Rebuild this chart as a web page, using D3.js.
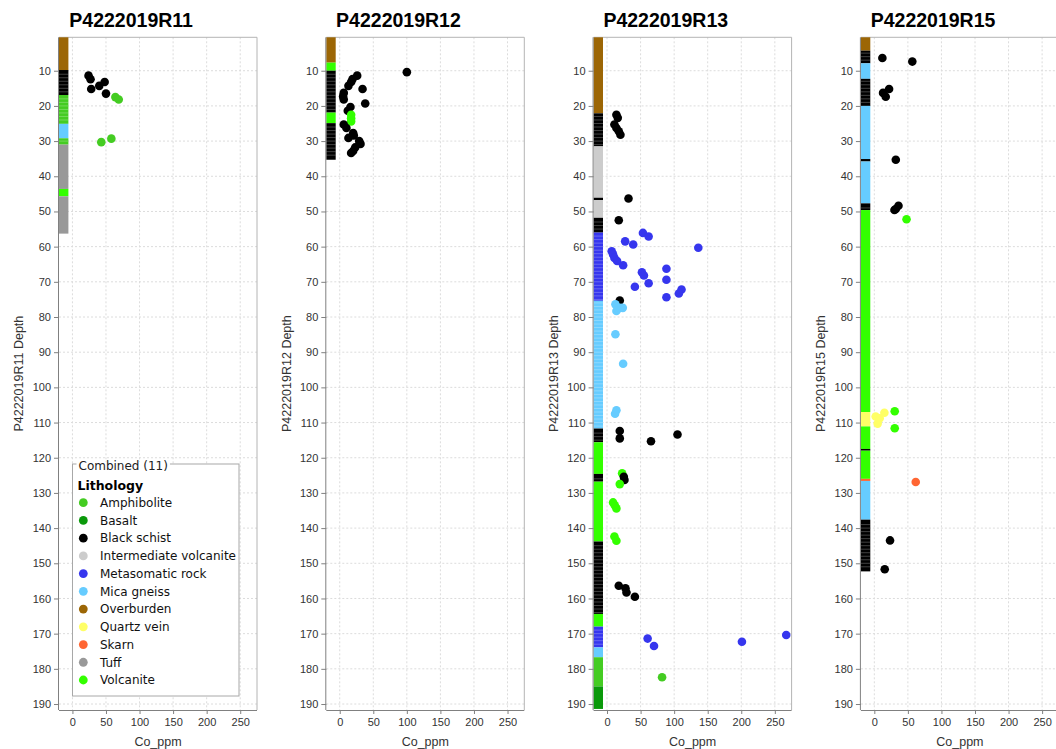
<!DOCTYPE html>
<html>
<head>
<meta charset="utf-8">
<script src="https://cdn.jsdelivr.net/npm/d3@7"></script>
<style>
  body { margin: 0; background: #fff; }
  svg { display: block; }
</style>
</head>
<body>
<script>
// Drill holes shown side by side
const holes = ["P4222019R11", "P4222019R12", "P4222019R13", "P4222019R15"];

// Lithology legend (order and colour)
const lithNames = ["Amphibolite", "Basalt", "Black schist", "Intermediate volcanite",
  "Metasomatic rock", "Mica gneiss", "Overburden", "Quartz vein", "Skarn", "Tuff", "Volcanite"];
const lithColors = ["#44cc22", "#0a990a", "#000000", "#cccccc",
  "#3636ee", "#66ccff", "#9c6605", "#ffff66", "#ff6633", "#999999", "#33ff00"];

// Axis ticks
const depthTicks = [10, 20, 30, 40, 50, 60, 70, 80, 90, 100, 110, 120, 130, 140, 150, 160, 170, 180, 190];
const coTicks = [0, 50, 100, 150, 200, 250];
const depthDomain = [0.5, 191.7];
const coDomain = [-20, 275];
const stripRange = [-20, -6];   // Co_ppm span used by the lithology log column

// Logged lithology intervals: [from, to, lithology, sampled (1 m sample splits)]
const logR11 = [
  [0.5, 9.8, "Overburden", 0], [9.8, 16.9, "Black schist", 1], [16.9, 25.1, "Amphibolite", 1],
  [25.1, 29.2, "Mica gneiss", 0], [29.2, 31.0, "Amphibolite", 1], [31.0, 43.6, "Tuff", 0],
  [43.6, 45.7, "Volcanite", 0], [45.7, 56.3, "Tuff", 0]
];
const logR12 = [
  [0.5, 7.7, "Overburden", 0], [7.7, 10.0, "Volcanite", 0], [10.0, 21.9, "Black schist", 1],
  [21.9, 24.9, "Volcanite", 0], [24.9, 35.3, "Black schist", 1]
];
const logR13 = [
  [0.5, 22.1, "Overburden", 0], [22.1, 31.5, "Black schist", 1], [31.5, 46.1, "Intermediate volcanite", 0],
  [46.1, 46.8, "Black schist", 0], [46.8, 51.8, "Intermediate volcanite", 0], [51.8, 56.0, "Black schist", 1],
  [56.0, 75.4, "Metasomatic rock", 1], [75.4, 111.7, "Mica gneiss", 1], [111.7, 115.6, "Black schist", 1],
  [115.6, 124.6, "Volcanite", 0], [124.6, 126.8, "Black schist", 1], [126.8, 143.8, "Volcanite", 0],
  [143.8, 164.4, "Black schist", 1], [164.4, 168.0, "Volcanite", 0], [168.0, 173.9, "Metasomatic rock", 1],
  [173.9, 176.7, "Mica gneiss", 0], [176.7, 185.0, "Amphibolite", 0], [185.0, 191.4, "Basalt", 0]
];
const logR15 = [
  [0.5, 4.3, "Overburden", 0], [4.3, 7.9, "Black schist", 1], [7.9, 12.3, "Mica gneiss", 0],
  [12.3, 20.0, "Black schist", 1], [20.0, 35.1, "Mica gneiss", 0], [35.1, 35.8, "Black schist", 0],
  [35.8, 47.7, "Mica gneiss", 0], [47.7, 49.6, "Black schist", 1], [49.6, 107.0, "Volcanite", 0],
  [107.0, 111.1, "Quartz vein", 0], [111.1, 117.5, "Volcanite", 0], [117.5, 118.0, "Black schist", 0],
  [118.0, 126.0, "Volcanite", 0], [126.0, 126.6, "Skarn", 0], [126.6, 137.6, "Mica gneiss", 0],
  [137.6, 152.3, "Black schist", 1]
];

// Assays: [Co_ppm, depth, lithology]
const coR11 = [
  [24, 11.4, "Black schist"], [27, 12.4, "Black schist"], [28, 15.2, "Black schist"],
  [40, 14.3, "Black schist"], [48, 13.2, "Black schist"], [50, 16.5, "Black schist"],
  [64, 17.5, "Amphibolite"], [69, 18.2, "Amphibolite"], [43, 30.3, "Amphibolite"], [58, 29.3, "Amphibolite"]
];
const coR12 = [
  [100, 10.4, "Black schist"], [26, 11.4, "Black schist"], [19, 12.4, "Black schist"],
  [17, 13.2, "Black schist"], [13, 14.3, "Black schist"], [34, 15.2, "Black schist"],
  [6, 16.3, "Black schist"], [5, 17.3, "Black schist"], [6, 18.2, "Black schist"],
  [38, 19.3, "Black schist"], [16, 20.3, "Black schist"], [12, 21.4, "Black schist"],
  [17, 22.5, "Volcanite"], [17, 23.5, "Volcanite"], [17, 24.4, "Volcanite"],
  [6, 25.3, "Black schist"], [10, 26.3, "Black schist"], [20, 27.7, "Black schist"],
  [21, 28.4, "Black schist"], [13, 29.1, "Black schist"], [29, 30.0, "Black schist"],
  [31, 30.8, "Black schist"], [23, 31.8, "Black schist"], [20, 32.8, "Black schist"],
  [17, 33.4, "Black schist"]
];
const coR13 = [
  [14, 22.5, "Black schist"], [16, 23.4, "Black schist"], [11, 25.3, "Black schist"],
  [14, 26.3, "Black schist"], [17.5, 27.2, "Black schist"], [20, 28.2, "Black schist"],
  [32, 46.3, "Black schist"], [17.5, 52.5, "Black schist"],
  [53.5, 56.1, "Metasomatic rock"], [62, 57.1, "Metasomatic rock"], [27, 58.5, "Metasomatic rock"],
  [39, 59.4, "Metasomatic rock"], [136, 60.3, "Metasomatic rock"], [7, 61.3, "Metasomatic rock"],
  [9, 62.2, "Metasomatic rock"], [11, 63.2, "Metasomatic rock"], [15, 64.1, "Metasomatic rock"],
  [24, 65.3, "Metasomatic rock"], [88.5, 66.3, "Metasomatic rock"], [52, 67.3, "Metasomatic rock"],
  [55, 68.2, "Metasomatic rock"], [88.5, 69.4, "Metasomatic rock"], [62, 70.4, "Metasomatic rock"],
  [41.5, 71.4, "Metasomatic rock"], [111, 72.2, "Metasomatic rock"], [107, 73.3, "Metasomatic rock"],
  [88.5, 74.4, "Metasomatic rock"], [19, 75.3, "Black schist"],
  [12.5, 76.4, "Mica gneiss"], [19, 77.4, "Mica gneiss"], [23.5, 77.4, "Mica gneiss"],
  [14, 78.3, "Mica gneiss"], [12.5, 84.9, "Mica gneiss"], [24, 93.3, "Mica gneiss"],
  [14, 106.5, "Mica gneiss"], [12, 107.5, "Mica gneiss"],
  [19, 112.4, "Black schist"], [19, 114.5, "Black schist"], [65.5, 115.3, "Black schist"],
  [105, 113.4, "Black schist"],
  [22.5, 124.4, "Volcanite"], [25, 125.4, "Black schist"], [26, 126.3, "Black schist"],
  [19, 127.5, "Volcanite"], [9, 132.7, "Volcanite"], [11.5, 133.5, "Volcanite"],
  [14, 134.4, "Volcanite"], [11, 142.4, "Volcanite"], [14, 143.6, "Volcanite"],
  [17.5, 156.4, "Black schist"], [27.5, 157.1, "Black schist"], [29, 158.3, "Black schist"],
  [41.5, 159.5, "Black schist"],
  [60.5, 171.4, "Metasomatic rock"], [70, 173.5, "Metasomatic rock"], [201, 172.3, "Metasomatic rock"],
  [267, 170.4, "Metasomatic rock"], [82, 182.4, "Amphibolite"]
];
const coR15 = [
  [12, 6.4, "Black schist"], [56.6, 7.4, "Black schist"], [22, 15.2, "Black schist"],
  [13, 16.3, "Black schist"], [17, 17.4, "Black schist"], [32, 35.3, "Black schist"],
  [36, 48.4, "Black schist"], [32, 49.3, "Black schist"], [30, 49.6, "Black schist"],
  [48, 52.2, "Volcanite"],
  [2, 108.3, "Quartz vein"], [5, 110.3, "Quartz vein"], [8, 108.8, "Quartz vein"], [15, 107.2, "Quartz vein"],
  [30.4, 106.8, "Volcanite"], [30.4, 111.6, "Volcanite"],
  [61.7, 126.9, "Skarn"], [23.4, 143.5, "Black schist"], [15.5, 151.7, "Black schist"]
];

const logs = [logR11, logR12, logR13, logR15];
const assays = [coR11, coR12, coR13, coR15];

const color = d3.scaleOrdinal().domain(lithNames).range(lithColors);

const W = 1056, H = 749;
const panelStep = 267.3, frameLeft0 = 59, frameW = 198;
const plotTop = 37.3, plotBottom = 710;
const axisFont = "'Liberation Sans', Arial, sans-serif";

const svg = d3.select("body").append("svg")
  .attr("width", W).attr("height", H)
  .attr("viewBox", `0 0 ${W} ${H}`);

const y = d3.scaleLinear().domain(depthDomain).range([plotTop, plotBottom]);

holes.forEach((hole, i) => {
  const left = frameLeft0 + i * panelStep;
  const x = d3.scaleLinear().domain(coDomain).range([left, left + frameW]);
  const g = svg.append("g");

  // Dashed grid
  g.append("g").selectAll("line.h").data(depthTicks).join("line")
    .attr("x1", left).attr("x2", left + frameW)
    .attr("y1", d => y(d)).attr("y2", d => y(d))
    .attr("stroke", "#dcdcdc").attr("stroke-width", 1).attr("stroke-dasharray", "2,2");
  g.append("g").selectAll("line.v").data(coTicks).join("line")
    .attr("x1", d => x(d)).attr("x2", d => x(d))
    .attr("y1", plotTop).attr("y2", plotBottom)
    .attr("stroke", "#dcdcdc").attr("stroke-width", 1).attr("stroke-dasharray", "2,2");

  // Plot frame (top and right)
  g.append("path")
    .attr("d", `M${left},${plotTop}H${left + frameW}V${plotBottom}`)
    .attr("fill", "none").attr("stroke", "#b4b4b4").attr("stroke-width", 1);

  // Lithology log column
  const xs0 = x(stripRange[0]), xs1 = x(stripRange[1]);
  const strip = g.append("g");
  strip.selectAll("rect").data(logs[i]).join("rect")
    .attr("x", xs0).attr("width", xs1 - xs0)
    .attr("y", d => y(d[0])).attr("height", d => y(d[1]) - y(d[0]))
    .attr("fill", d => color(d[2]));
  // Sample splits within sampled intervals
  const splits = [];
  logs[i].forEach(d => {
    if (!d[3]) return;
    for (let z = Math.ceil(d[0] + 0.5); z < d[1] - 0.3; z += 1) splits.push(z);
  });
  strip.selectAll("line").data(splits).join("line")
    .attr("x1", xs0).attr("x2", xs1)
    .attr("y1", d => y(d)).attr("y2", d => y(d))
    .attr("stroke", "#ffffff").attr("stroke-opacity", 0.32).attr("stroke-width", 0.8);

  // Assay points
  g.append("g").selectAll("circle").data(assays[i]).join("circle")
    .attr("cx", d => x(d[0])).attr("cy", d => y(d[1])).attr("r", 4.3)
    .attr("fill", d => color(d[2]));

  // Axes
  const yAxis = d3.axisLeft(y).tickValues(depthTicks).tickSize(5).tickPadding(3);
  const ya = g.append("g").attr("transform", `translate(${left},0)`).call(yAxis);
  const xAxis = d3.axisBottom(x).tickValues(coTicks).tickSize(4).tickPadding(4);
  const xa = g.append("g").attr("transform", `translate(0,${plotBottom})`).call(xAxis);
  [ya, xa].forEach(a => {
    a.select(".domain").attr("stroke", "#808080");
    a.selectAll(".tick line").attr("stroke", "#808080");
    a.selectAll(".tick text").attr("fill", "#333").style("font-family", axisFont).style("font-size", "11px");
  });
  ya.select(".domain").attr("d", `M-0.5,${plotTop}V${plotBottom}`);
  xa.select(".domain").attr("d", `M${left},0.5H${left + frameW}`);

  // Axis titles
  g.append("text")
    .attr("transform", `translate(${left - 40},${(plotTop + plotBottom) / 2}) rotate(-90)`)
    .attr("text-anchor", "middle").attr("dy", "0.35em")
    .style("font-family", axisFont).style("font-size", "12.5px").attr("fill", "#333")
    .text(hole + " Depth");
  g.append("text")
    .attr("x", left + frameW / 2).attr("y", 746)
    .attr("text-anchor", "middle")
    .style("font-family", axisFont).style("font-size", "12.5px").attr("fill", "#333")
    .text("Co_ppm");

  // Hole title
  g.append("text")
    .attr("x", i * panelStep + panelStep / 2 - 2.5).attr("y", 26.8)
    .attr("text-anchor", "middle")
    .style("font-family", axisFont).style("font-weight", "bold").style("font-size", "19.5px")
    .attr("fill", "#000")
    .text(hole);
});

// Legend
const lg = svg.append("g").attr("transform", "translate(72.5,464)");
const legFont = "'DejaVu Sans', Verdana, sans-serif";
lg.append("rect").attr("x", 0).attr("y", 0).attr("width", 166.5).attr("height", 232)
  .attr("fill", "#fff").attr("stroke", "#a8a8a8").attr("stroke-width", 1);
const cap = lg.append("text").attr("x", 6).attr("y", 5.5)
  .style("font-family", legFont).style("font-size", "12px").attr("fill", "#222")
  .text("Combined (11)");
const bb = cap.node().getBBox();
lg.insert("rect", "text").attr("x", bb.x - 2).attr("y", -2).attr("width", bb.width + 4).attr("height", 4).attr("fill", "#fff");
lg.append("text").attr("x", 5).attr("y", 26)
  .style("font-family", legFont).style("font-size", "12.5px").style("font-weight", "bold").attr("fill", "#000")
  .text("Lithology");
const items = lg.selectAll("g.item").data(lithNames).join("g")
  .attr("transform", (d, k) => `translate(0,${38.7 + k * 17.73})`);
items.append("circle").attr("cx", 10.8).attr("cy", 0).attr("r", 4.4).attr("fill", d => color(d));
items.append("text").attr("x", 27.5).attr("y", 0).attr("dy", "0.36em")
  .style("font-family", legFont).style("font-size", "12px").attr("fill", "#111")
  .text(d => d);
</script>
</body>
</html>
